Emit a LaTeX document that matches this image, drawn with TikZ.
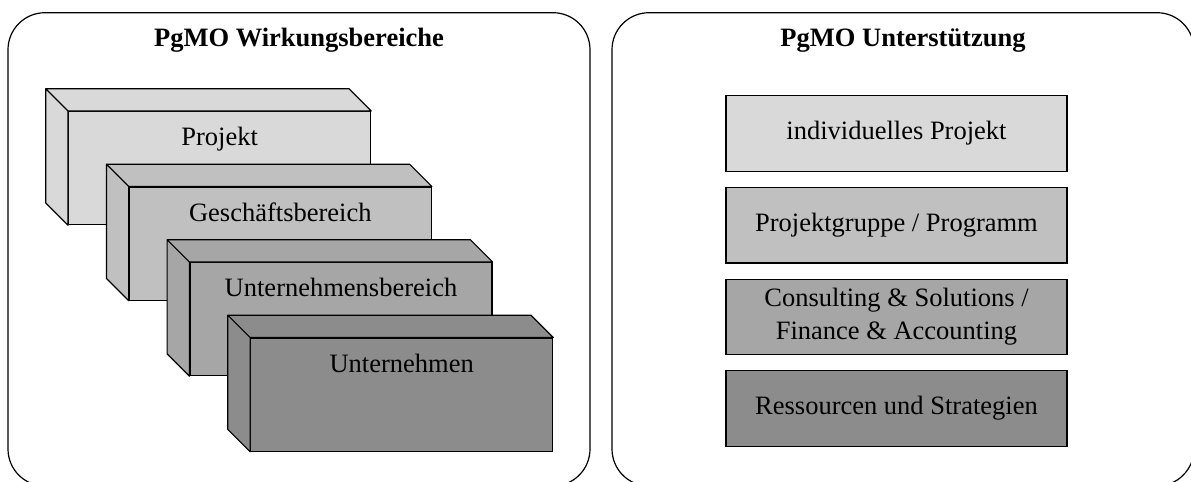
\documentclass[tikz,border=0pt]{standalone}
\usepackage{fontspec}
\setmainfont{Liberation Serif}
\usetikzlibrary{positioning}

\definecolor{hellgrau}{RGB}{217,217,217}
\definecolor{mittelgrau}{RGB}{192,192,192}
\definecolor{grau}{RGB}{166,166,166}
\definecolor{dunkelgrau}{RGB}{140,140,140}

\begin{document}
\begin{tikzpicture}[x=0.5pt,y=-0.5pt,line width=0.6pt,node distance=7.5pt,
    font=\fontsize{13.25}{16.5}\selectfont,
    panel/.style={draw, rounded corners=18.5pt, minimum width=291pt,
      minimum height=236.65pt, inner sep=0pt},
    titel/.style={font=\fontsize{13.25}{16.5}\selectfont\bfseries, anchor=base},
    quader/.style={draw, fill=#1, minimum width=151pt, inner sep=0pt,
      text height=17pt, text depth=39.5pt, anchor=north west},
    seite/.style={draw, fill=#1, line join=round},
    feld/.style={draw, fill=#1, minimum width=170.5pt, minimum height=37.75pt,
      inner sep=0pt, align=center}]
      \useasboundingbox (0,0) rectangle (1191,482);

      % Rahmen und Titel
      \node[panel] (links) at (299,249.35) {};
      \node[panel] (rechts) at (903,249.35) {};
      \node[titel] (titelL) at (299,46.7) {PgMO Wirkungsbereiche};
      \node[titel] (titelR) at (903,46.7) {PgMO Unterstützung};

      % Wirkungsbereiche als Quader
      \node[quader=hellgrau] (pj) at (68,111) {Projekt};
      \path[seite=hellgrau] (pj.north west) -- ++(-22.3,-22.3)
        -- ([shift={(-22.3,-22.3)}]pj.north east) -- (pj.north east) -- cycle
        (pj.north west) -- ++(-22.3,-22.3)
        -- ([shift={(-22.3,-22.3)}]pj.south west) -- (pj.south west) -- cycle;
      \node[quader=mittelgrau] (gb) at (128.7,186.5) {Geschäftsbereich};
      \path[seite=mittelgrau] (gb.north west) -- ++(-22.3,-22.3)
        -- ([shift={(-22.3,-22.3)}]gb.north east) -- (gb.north east) -- cycle
        (gb.north west) -- ++(-22.3,-22.3)
        -- ([shift={(-22.3,-22.3)}]gb.south west) -- (gb.south west) -- cycle;
      \node[quader=grau] (ub) at (189.4,262) {Unternehmensbereich};
      \path[seite=grau] (ub.north west) -- ++(-22.3,-22.3)
        -- ([shift={(-22.3,-22.3)}]ub.north east) -- (ub.north east) -- cycle
        (ub.north west) -- ++(-22.3,-22.3)
        -- ([shift={(-22.3,-22.3)}]ub.south west) -- (ub.south west) -- cycle;
      \node[quader=dunkelgrau] (un) at (250.1,337.5) {Unternehmen};
      \path[seite=dunkelgrau] (un.north west) -- ++(-22.3,-22.3)
        -- ([shift={(-22.3,-22.3)}]un.north east) -- (un.north east) -- cycle
        (un.north west) -- ++(-22.3,-22.3)
        -- ([shift={(-22.3,-22.3)}]un.south west) -- (un.south west) -- cycle;

      % Unterstuetzung
      \node[feld=hellgrau] (ind) at (896.5,133.5) {individuelles Projekt};
      \node[feld=mittelgrau] (pg) [below=of ind] {Projektgruppe / Programm};
      \node[feld=grau] (cs) [below=of pg] {Consulting \& Solutions /\\Finance \& Accounting};
      \node[feld=dunkelgrau] (rs) [below=of cs] {Ressourcen und Strategien};
    \end{tikzpicture}
\end{document}
